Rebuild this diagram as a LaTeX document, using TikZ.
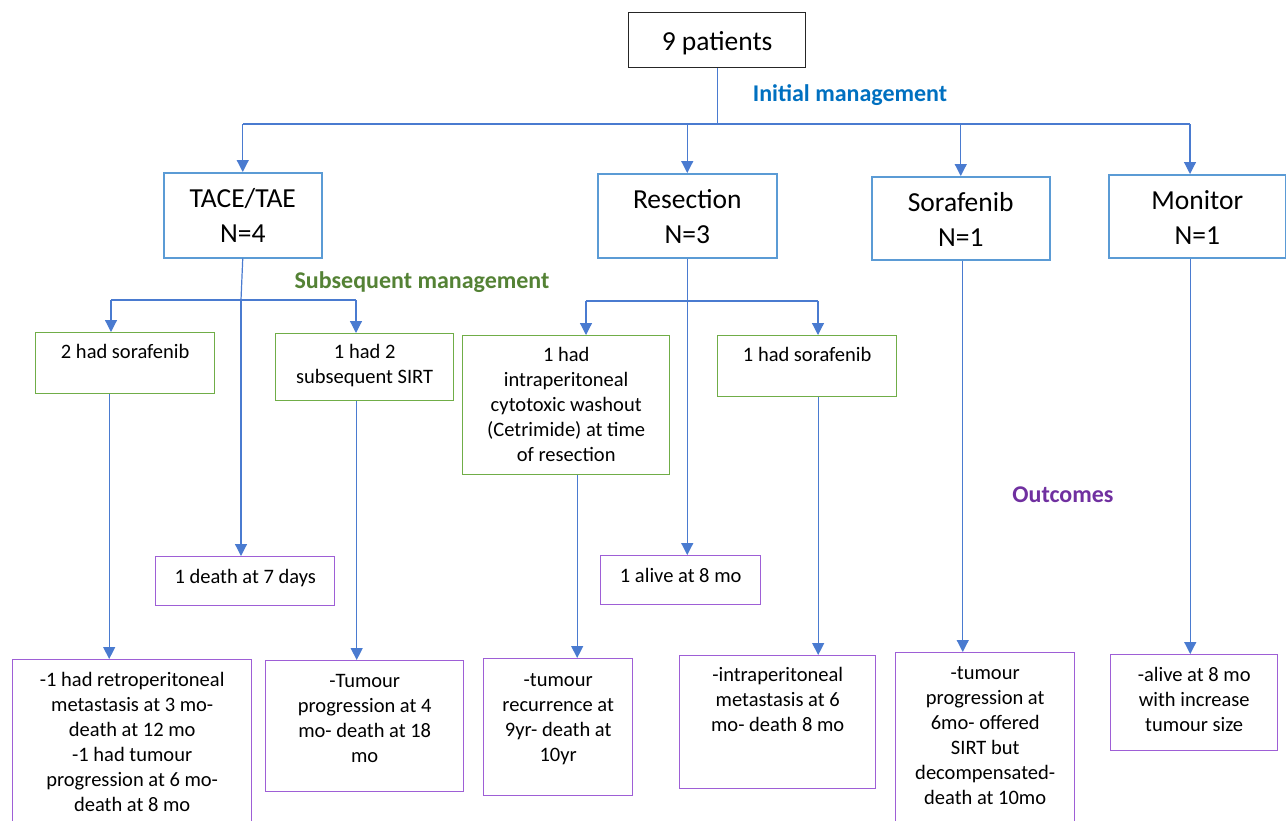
\documentclass[tikz,border=0pt]{standalone}
\usepackage{fontspec}
\setmainfont{Carlito}
\usetikzlibrary{arrows.meta,positioning,calc}
\definecolor{lineBlue}{HTML}{4A7BD0}
\definecolor{boxBlue}{HTML}{5B9BD5}
\definecolor{boxGreen}{HTML}{70AD47}
\definecolor{boxPurple}{HTML}{9E5FD6}
\definecolor{initBlue}{HTML}{0070C0}
\definecolor{subGreen}{HTML}{548235}
\definecolor{outPurple}{HTML}{7030A0}
% box text: width, height, first baseline, lines
\newcommand{\cell}[4]{\parbox[t][#2pt][t]{#1pt}{\centering\rule{0pt}{#3pt}#4}}

\begin{document}
\begin{tikzpicture}[x=1pt,y=-1pt,
    conn/.style={draw=lineBlue, line width=1.2pt},
    arr/.style={conn, -{Triangle[length=12pt,width=12pt]}},
    startbox/.style={draw=black!85, line width=1.3pt, inner sep=0pt, anchor=north west, font=\fontsize{27.5}{35}\selectfont},
    topbox/.style={startbox, draw=boxBlue, line width=1.5pt},
    subbox/.style={startbox, draw=boxGreen, line width=1.4pt, font=\fontsize{20.5}{25}\selectfont},
    outbox/.style={subbox, draw=boxPurple},
    head/.style={font=\bfseries\fontsize{24}{28}\selectfont}]
  \clip (0,0) rectangle (1286,820);

  % patients and initial management
  \node[startbox] (pat) at (628,12) {\cell{177}{55}{38}{9 patients}};
  \node[topbox] (tace) at (163,172) {\cell{158}{85}{35}{TACE/TAE\\N=4}};
  \node[topbox] (res) at (597,173) {\cell{179}{84}{35}{Resection\\N=3}};
  \node[topbox] (sor) at (871,176) {\cell{178}{83}{35}{Sorafenib\\N=1}};
  \node[topbox] (mon) at (1108,174) {\cell{177}{83}{35}{Monitor\\N=1}};

  % subsequent management
  \node[subbox] (soraA) at (35,332) {\cell{179}{61}{26}{2 had sorafenib}};
  \node[subbox] (sirt) at (275,333) {\cell{178}{67}{25}{1 had 2\\subsequent SIRT}};
  \node[subbox] (wash) at (462,335) {\cell{207}{139}{26}{1 had\\intraperitoneal\\cytotoxic washout\\(Cetrimide) at time\\of resection}};
  \node[subbox] (soraB) at (717,335) {\cell{179}{61}{26}{1 had sorafenib}};

  % outcomes
  \node[outbox] (death) at (155,556) {\cell{179}{49}{27}{1 death at 7 days}};
  \node[outbox] (alive) at (600,555) {\cell{160}{49}{27}{1 alive at 8 mo}};
  \node[outbox] (outA) at (12,659) {\cell{239}{175}{27}{-1 had retroperitoneal\\metastasis at 3 mo-\\death at 12 mo\\-1 had tumour\\progression at 6 mo-\\death at 8 mo}};
  \node[outbox] (outB) at (265,660) {\cell{198}{131}{27}{-Tumour\\progression at 4\\mo- death at 18\\mo}};
  \node[outbox] (outC) at (483,658) {\cell{149}{137}{28}{-tumour\\recurrence at\\9yr- death at\\10yr}};
  \node[outbox] (outD) at (679,655) {\cell{196}{133}{26}{-intraperitoneal\\metastasis at 6\\mo- death 8 mo}};
  \node[outbox] (outE) at (895,652) {\cell{179}{180}{27}{-tumour\\progression at\\6mo- offered\\SIRT but\\decompensated-\\death at 10mo}};
  \node[outbox] (outF) at (1110,654) {\cell{167}{96}{27}{-alive at 8 mo\\with increase\\tumour size}};

  \node[head, text=initBlue] (lblInit) at (850,95) {Initial management};
  \node[head, text=subGreen] (lblSub) at (422,282) {Subsequent management};
  \node[head, text=outPurple] (lblOut) at (1063,495) {Outcomes};

  % first split
  \coordinate (bus) at (0,124);
  \coordinate (monDrop) at (1190,124);
  \draw[conn] (pat.south) -- (pat.south |- bus);
  \draw[conn] (tace.north |- bus) -- (monDrop);
  \draw[arr] (tace.north |- bus) -- (tace.north);
  \draw[arr] (res.north |- bus) -- (res.north);
  \draw[arr] (sor.north |- bus) -- (sor.north);
  \draw[arr] (monDrop) -- (monDrop |- mon.north);

  % TACE branch
  \coordinate (tJoin) at (241,300);
  \coordinate (tLeft) at (111,300);
  \coordinate (tRight) at (356,300);
  \draw[conn] (tace.south) -- (tJoin);
  \draw[conn] (tLeft) -- (tRight);
  \draw[arr] (tLeft) -- (tLeft |- soraA.north);
  \draw[arr] (tRight) -- (tRight |- sirt.north);
  \draw[arr] (tJoin) -- (tJoin |- death.north);

  % resection branch
  \coordinate (rLeft) at (586,301);
  \coordinate (rRight) at (818,301);
  \draw[conn] (rLeft) -- (rRight);
  \draw[arr] (res.south) -- (res.south |- alive.north);
  \draw[arr] (rLeft) -- (rLeft |- wash.north);
  \draw[arr] (rRight) -- (rRight |- soraB.north);

  % down to outcomes
  \coordinate (dA) at ([xshift=-16]soraA.south);
  \coordinate (dB) at ([xshift=-8]sirt.south);
  \coordinate (dC) at ([xshift=11]wash.south);
  \coordinate (dD) at ([xshift=11]soraB.south);
  \coordinate (dE) at ([xshift=2]sor.south);
  \coordinate (dF) at ([xshift=-7]mon.south);
  \draw[arr] (dA) -- (dA |- outA.north);
  \draw[arr] (dB) -- (dB |- outB.north);
  \draw[arr] (dC) -- (dC |- outC.north);
  \draw[arr] (dD) -- (dD |- outD.north);
  \draw[arr] (dE) -- (dE |- outE.north);
  \draw[arr] (dF) -- (dF |- outF.north);
\end{tikzpicture}
\end{document}
